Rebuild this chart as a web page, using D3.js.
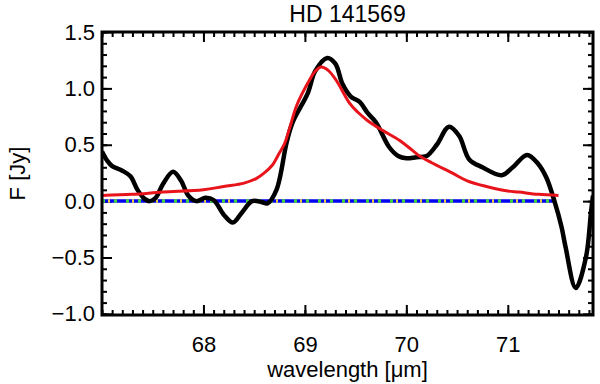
<!DOCTYPE html>
<html><head><meta charset="utf-8">
<script src="https://cdn.jsdelivr.net/npm/d3@7/dist/d3.min.js"></script>
<style>body{margin:0;background:#fff}svg{display:block}text{font-family:"Liberation Sans",Arial,Helvetica,sans-serif;fill:#000}</style>
</head><body>
<script>
// Observed spectrum (black)
const obsWave = [67.00,67.05,67.10,67.20,67.28,67.35,67.42,67.47,67.53,67.60,67.70,67.78,67.85,67.93,68.02,68.10,68.20,68.29,68.38,68.48,68.58,68.63,68.72,68.82,68.88,69.03,69.10,69.22,69.30,69.37,69.45,69.54,69.62,69.70,69.83,69.92,70.00,70.10,70.20,70.30,70.42,70.52,70.62,70.75,70.94,71.05,71.19,71.30,71.38,71.46,71.53,71.57,71.67,71.77,71.82,71.84];
const obsFlux = [0.44,0.36,0.31,0.27,0.22,0.10,0.02,0.00,0.03,0.15,0.26,0.18,0.05,0.00,0.03,0.01,-0.12,-0.19,-0.10,0.00,-0.01,-0.02,0.10,0.52,0.70,0.96,1.15,1.27,1.22,1.04,0.93,0.88,0.78,0.70,0.48,0.40,0.38,0.39,0.40,0.50,0.66,0.58,0.37,0.30,0.23,0.30,0.41,0.33,0.21,0.00,-0.23,-0.41,-0.77,-0.50,-0.10,0.05];
// Fit (red)
const fitWave = [67.0,67.3,67.6,68.0,68.2,68.4,68.52,68.6,68.68,68.75,68.80,68.85,68.92,69.03,69.10,69.16,69.23,69.31,69.44,69.52,69.61,69.76,69.93,70.06,70.13,70.25,70.45,70.60,70.79,71.00,71.11,71.30,71.50];
const fitFlux = [0.05,0.06,0.08,0.10,0.13,0.16,0.20,0.25,0.32,0.43,0.51,0.65,0.85,1.05,1.15,1.19,1.16,1.07,0.87,0.79,0.72,0.63,0.54,0.45,0.40,0.34,0.25,0.18,0.13,0.09,0.08,0.06,0.05];
// Zero baseline
const zeroWave = [67.0,71.47];
const zeroFlux = [0,0];
const xTicks = [68,69,70,71];
const yTicks = [-1.0,-0.5,0.0,0.5,1.0,1.5];
const titleText = "HD 141569";
const xLabel = "wavelength [\u03bcm]";
const yLabel = "F [Jy]";

const W=600,H=384;
const m={l:102,r:7,t:32,b:69};
const svg=d3.select("body").append("svg").attr("width",W).attr("height",H);
const x=d3.scaleLinear().domain([67.0,71.84]).range([m.l,W-m.r]);
const y=d3.scaleLinear().domain([-1.01,1.5]).range([H-m.b,m.t]);
const x0=m.l,x1=W-m.r,y0=H-m.b,y1=m.t;

const fs=22;
const xMinor=d3.range(67.0,71.85,0.1).map(v=>+v.toFixed(2));
const yMinor=d3.range(-1.0,1.51,0.1).map(v=>+v.toFixed(2));
function draw(axisFn,scale,pos,vals,size,labels){
  const g=svg.append("g").attr("transform",pos);
  const a=axisFn(scale).tickValues(vals).tickSizeInner(size).tickSizeOuter(0);
  if(labels) a.tickFormat(labels); else a.tickFormat("");
  g.call(a);
  g.select(".domain").remove();
  g.selectAll(".tick line").attr("stroke","#000").attr("stroke-width",2);
  return g;
}
const fmtY=v=>(v<0?"\u2212":"")+Math.abs(v).toFixed(1);
let gb=draw(d3.axisBottom,x,`translate(0,${y0})`,xMinor,-5,null);
gb=draw(d3.axisBottom,x,`translate(0,${y0})`,xTicks,-10,d3.format("d"));
gb.selectAll("text").attr("font-size",fs).attr("y",21).attr("dy","0.71em").style("font-family","'Liberation Sans',Arial,sans-serif");
draw(d3.axisTop,x,`translate(0,${y1})`,xMinor,-5,null);
draw(d3.axisTop,x,`translate(0,${y1})`,xTicks,-10,null);
draw(d3.axisLeft,y,`translate(${x0},0)`,yMinor,-5,null);
let gl=draw(d3.axisLeft,y,`translate(${x0},0)`,yTicks,-10,fmtY);
gl.selectAll("text").attr("font-size",fs).attr("x",-7).style("font-family","'Liberation Sans',Arial,sans-serif");
draw(d3.axisRight,y,`translate(${x1},0)`,yMinor,-5,null);
draw(d3.axisRight,y,`translate(${x1},0)`,yTicks,-10,null);

svg.append("clipPath").attr("id","c").append("rect").attr("x",x0).attr("y",y1).attr("width",x1-x0).attr("height",y0-y1);
const pg=svg.append("g").attr("clip-path","url(#c)");

// zero line (overlapping blue dashed / green / yellow dotted lines)
const zl=d3.line().x((d,i)=>x(zeroWave[i])).y((d,i)=>y(zeroFlux[i]));
pg.append("path").attr("d",zl(zeroWave)).attr("stroke","#0000ee").attr("stroke-width",3.5).attr("fill","none");
pg.append("path").attr("d",zl(zeroWave)).attr("stroke","#3fd83f").attr("stroke-width",3.5).attr("fill","none").attr("stroke-dasharray","3,9");
pg.append("path").attr("d",zl(zeroWave)).attr("stroke","#e8d040").attr("stroke-width",3.5).attr("fill","none").attr("stroke-dasharray","2,22").attr("stroke-dashoffset",-6);

const lo=d3.line().x((d,i)=>x(obsWave[i])).y((d,i)=>y(obsFlux[i])).curve(d3.curveCatmullRom);
pg.append("path").attr("d",lo(obsWave)).attr("stroke","#000").attr("stroke-width",4.5).attr("fill","none").attr("stroke-linejoin","round");
const lf=d3.line().x((d,i)=>x(fitWave[i])).y((d,i)=>y(fitFlux[i])).curve(d3.curveCatmullRom);
pg.append("path").attr("d",lf(fitWave)).attr("stroke","#e8141b").attr("stroke-width",3).attr("fill","none");

svg.append("rect").attr("x",x0).attr("y",y1).attr("width",x1-x0).attr("height",y0-y1).attr("fill","none").attr("stroke","#000").attr("stroke-width",3);

svg.append("text").attr("x",(x0+x1)/2).attr("y",22).attr("text-anchor","middle").attr("font-size",fs+1).text(titleText);
svg.append("text").attr("x",(x0+x1)/2).attr("y",377).attr("text-anchor","middle").attr("font-size",fs).text(xLabel);
svg.append("text").attr("transform",`translate(25,${(y0+y1)/2}) rotate(-90)`).attr("text-anchor","middle").attr("font-size",fs).text(yLabel);
</script>
</body></html>
